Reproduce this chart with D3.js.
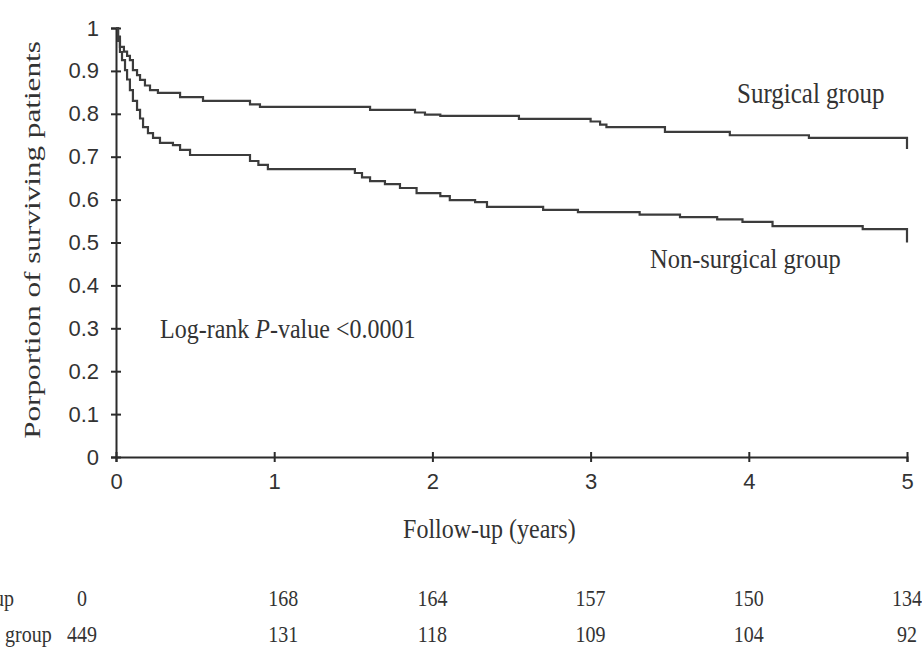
<!DOCTYPE html>
<html>
<head>
<meta charset="utf-8">
<script src="https://cdn.jsdelivr.net/npm/d3@7"></script>
<style>
  body { margin: 0; background: #fff; }
  svg { display: block; }
</style>
</head>
<body>
<div id="chart"></div>
<script>
// Kaplan-Meier estimates (years, proportion surviving)
const surgicalTime = [0, 0.013, 0.025, 0.05, 0.07, 0.088, 0.107, 0.133, 0.152, 0.183, 0.215, 0.265, 0.405, 0.55, 0.847, 0.91, 1.606, 1.89, 1.953, 2.05, 2.547, 3.0, 3.06, 3.10, 3.47, 3.88, 4.38, 5, 5];
const surgicalSurv = [1, 0.98, 0.956, 0.945, 0.935, 0.925, 0.902, 0.89, 0.879, 0.866, 0.855, 0.849, 0.839, 0.830, 0.822, 0.816, 0.809, 0.803, 0.798, 0.795, 0.788, 0.782, 0.775, 0.769, 0.758, 0.75, 0.744, 0.744, 0.718];

const nonSurgicalTime = [0, 0.013, 0.025, 0.038, 0.057, 0.07, 0.088, 0.107, 0.133, 0.152, 0.171, 0.202, 0.234, 0.278, 0.36, 0.405, 0.468, 0.847, 0.9, 0.96, 1.51, 1.555, 1.606, 1.70, 1.795, 1.90, 2.05, 2.11, 2.27, 2.345, 2.70, 2.92, 3.31, 3.565, 3.80, 3.96, 4.15, 4.72, 5, 5];
const nonSurgicalSurv = [1, 0.97, 0.944, 0.925, 0.902, 0.88, 0.855, 0.83, 0.809, 0.789, 0.769, 0.755, 0.744, 0.732, 0.727, 0.716, 0.704, 0.69, 0.681, 0.671, 0.662, 0.652, 0.643, 0.636, 0.627, 0.615, 0.608, 0.599, 0.594, 0.583, 0.576, 0.571, 0.565, 0.559, 0.554, 0.548, 0.538, 0.531, 0.531, 0.50];

const xTicks = [0, 1, 2, 3, 4, 5];
const yTicks = [0, 0.1, 0.2, 0.3, 0.4, 0.5, 0.6, 0.7, 0.8, 0.9, 1];
const yTickLabels = ["0", "0.1", "0.2", "0.3", "0.4", "0.5", "0.6", "0.7", "0.8", "0.9", "1"];

// numbers at risk table
const riskYears = [0, 1, 2, 3, 4, 5];
const riskGroups = ["Surgical group", "Non-surgical group"];
const riskSurgical = [0, 168, 164, 157, 150, 134];
const riskNonSurgical = [449, 131, 118, 109, 104, 92];

const width = 922;
const height = 649;
const marginLeft = 116;
const marginRight = 15;
const marginTop = 28;
const plotBottom = 457;

const x = d3.scaleLinear().domain([0, 5]).range([marginLeft, width - marginRight]);
const y = d3.scaleLinear().domain([0, 1]).range([plotBottom, marginTop]);

const svg = d3.create("svg").attr("width", width).attr("height", height);

const serif = "'Liberation Serif', 'Times New Roman', serif";
const sans = "'Liberation Sans', Arial, sans-serif";
const ink = "#2b2b2b";
const stretch = 1.15; // the source picture is a bit taller than wide

// Y axis
svg.append("g")
  .attr("transform", `translate(${marginLeft},0)`)
  .call(d3.axisLeft(y).tickValues(yTicks).tickFormat((d, i) => yTickLabels[i]).tickSize(5).tickPadding(12))
  .call(g => g.select(".domain").attr("stroke", ink).attr("stroke-width", 2))
  .call(g => g.selectAll(".tick line").attr("x1", -5).attr("x2", 5).attr("stroke", ink).attr("stroke-width", 2))
  .call(g => g.selectAll(".tick text").attr("font-family", sans).attr("font-size", 22).attr("fill", "#333"));

// X axis
svg.append("g")
  .attr("transform", `translate(0,${plotBottom})`)
  .call(d3.axisBottom(x).tickValues(xTicks).tickFormat(d3.format("d")).tickSize(5).tickPadding(11))
  .call(g => g.select(".domain").attr("stroke", ink).attr("stroke-width", 2))
  .call(g => g.selectAll(".tick line").attr("y1", -5).attr("y2", 5).attr("stroke", ink).attr("stroke-width", 2))
  .call(g => g.selectAll(".tick text").attr("font-family", sans).attr("font-size", 22).attr("fill", "#333"));

// survival curves
const line = d3.line()
  .x(d => x(d[0]))
  .y(d => y(d[1]))
  .curve(d3.curveStepAfter);

const series = [
  d3.zip(surgicalTime, surgicalSurv),
  d3.zip(nonSurgicalTime, nonSurgicalSurv)
];

svg.append("g")
  .selectAll("path")
  .data(series)
  .join("path")
  .attr("d", line)
  .attr("fill", "none")
  .attr("stroke", "#3c3c3c")
  .attr("stroke-width", 2.2);

// text helper with the slight vertical stretch
function label(tx, ty, text, anchor, size) {
  return svg.append("text")
    .attr("transform", `translate(${tx},${ty}) scale(1,${stretch})`)
    .attr("text-anchor", anchor || "start")
    .attr("font-family", serif)
    .attr("font-size", size || 24)
    .attr("fill", "#333")
    .text(text);
}

label(737, 103, "Surgical group", "start", 25);
label(650, 268, "Non-surgical group", "start", 24.5);
label(x(2.36), 538, "Follow-up (years)", "middle");

const pv = label(160, 338, "Log-rank ");
pv.append("tspan").attr("font-style", "italic").text("P");
pv.append("tspan").text("-value <0.0001");

// Y axis title
svg.append("text")
  .attr("transform", `translate(40,240) scale(1,1.3) rotate(-90)`)
  .attr("text-anchor", "middle")
  .attr("font-family", serif)
  .attr("font-size", 24)
  .attr("fill", "#333")
  .text("Porportion of surviving patients");

// numbers at risk (first column sits left of the axis, the rest under the ticks)
const colX = (yr, i) => i === 0 ? x(yr) - 34 : (i === 1 ? x(yr) + 9 : x(yr));
const rows = [riskSurgical, riskNonSurgical];
const rowY = [606, 642];

rows.forEach((vals, r) => {
  label(-104, rowY[r], riskGroups[r], "start", 20);
  vals.forEach((v, i) => label(colX(riskYears[i], i), rowY[r], String(v), "middle", 20));
});

d3.select("#chart").node().appendChild(svg.node());
</script>
</body>
</html>
